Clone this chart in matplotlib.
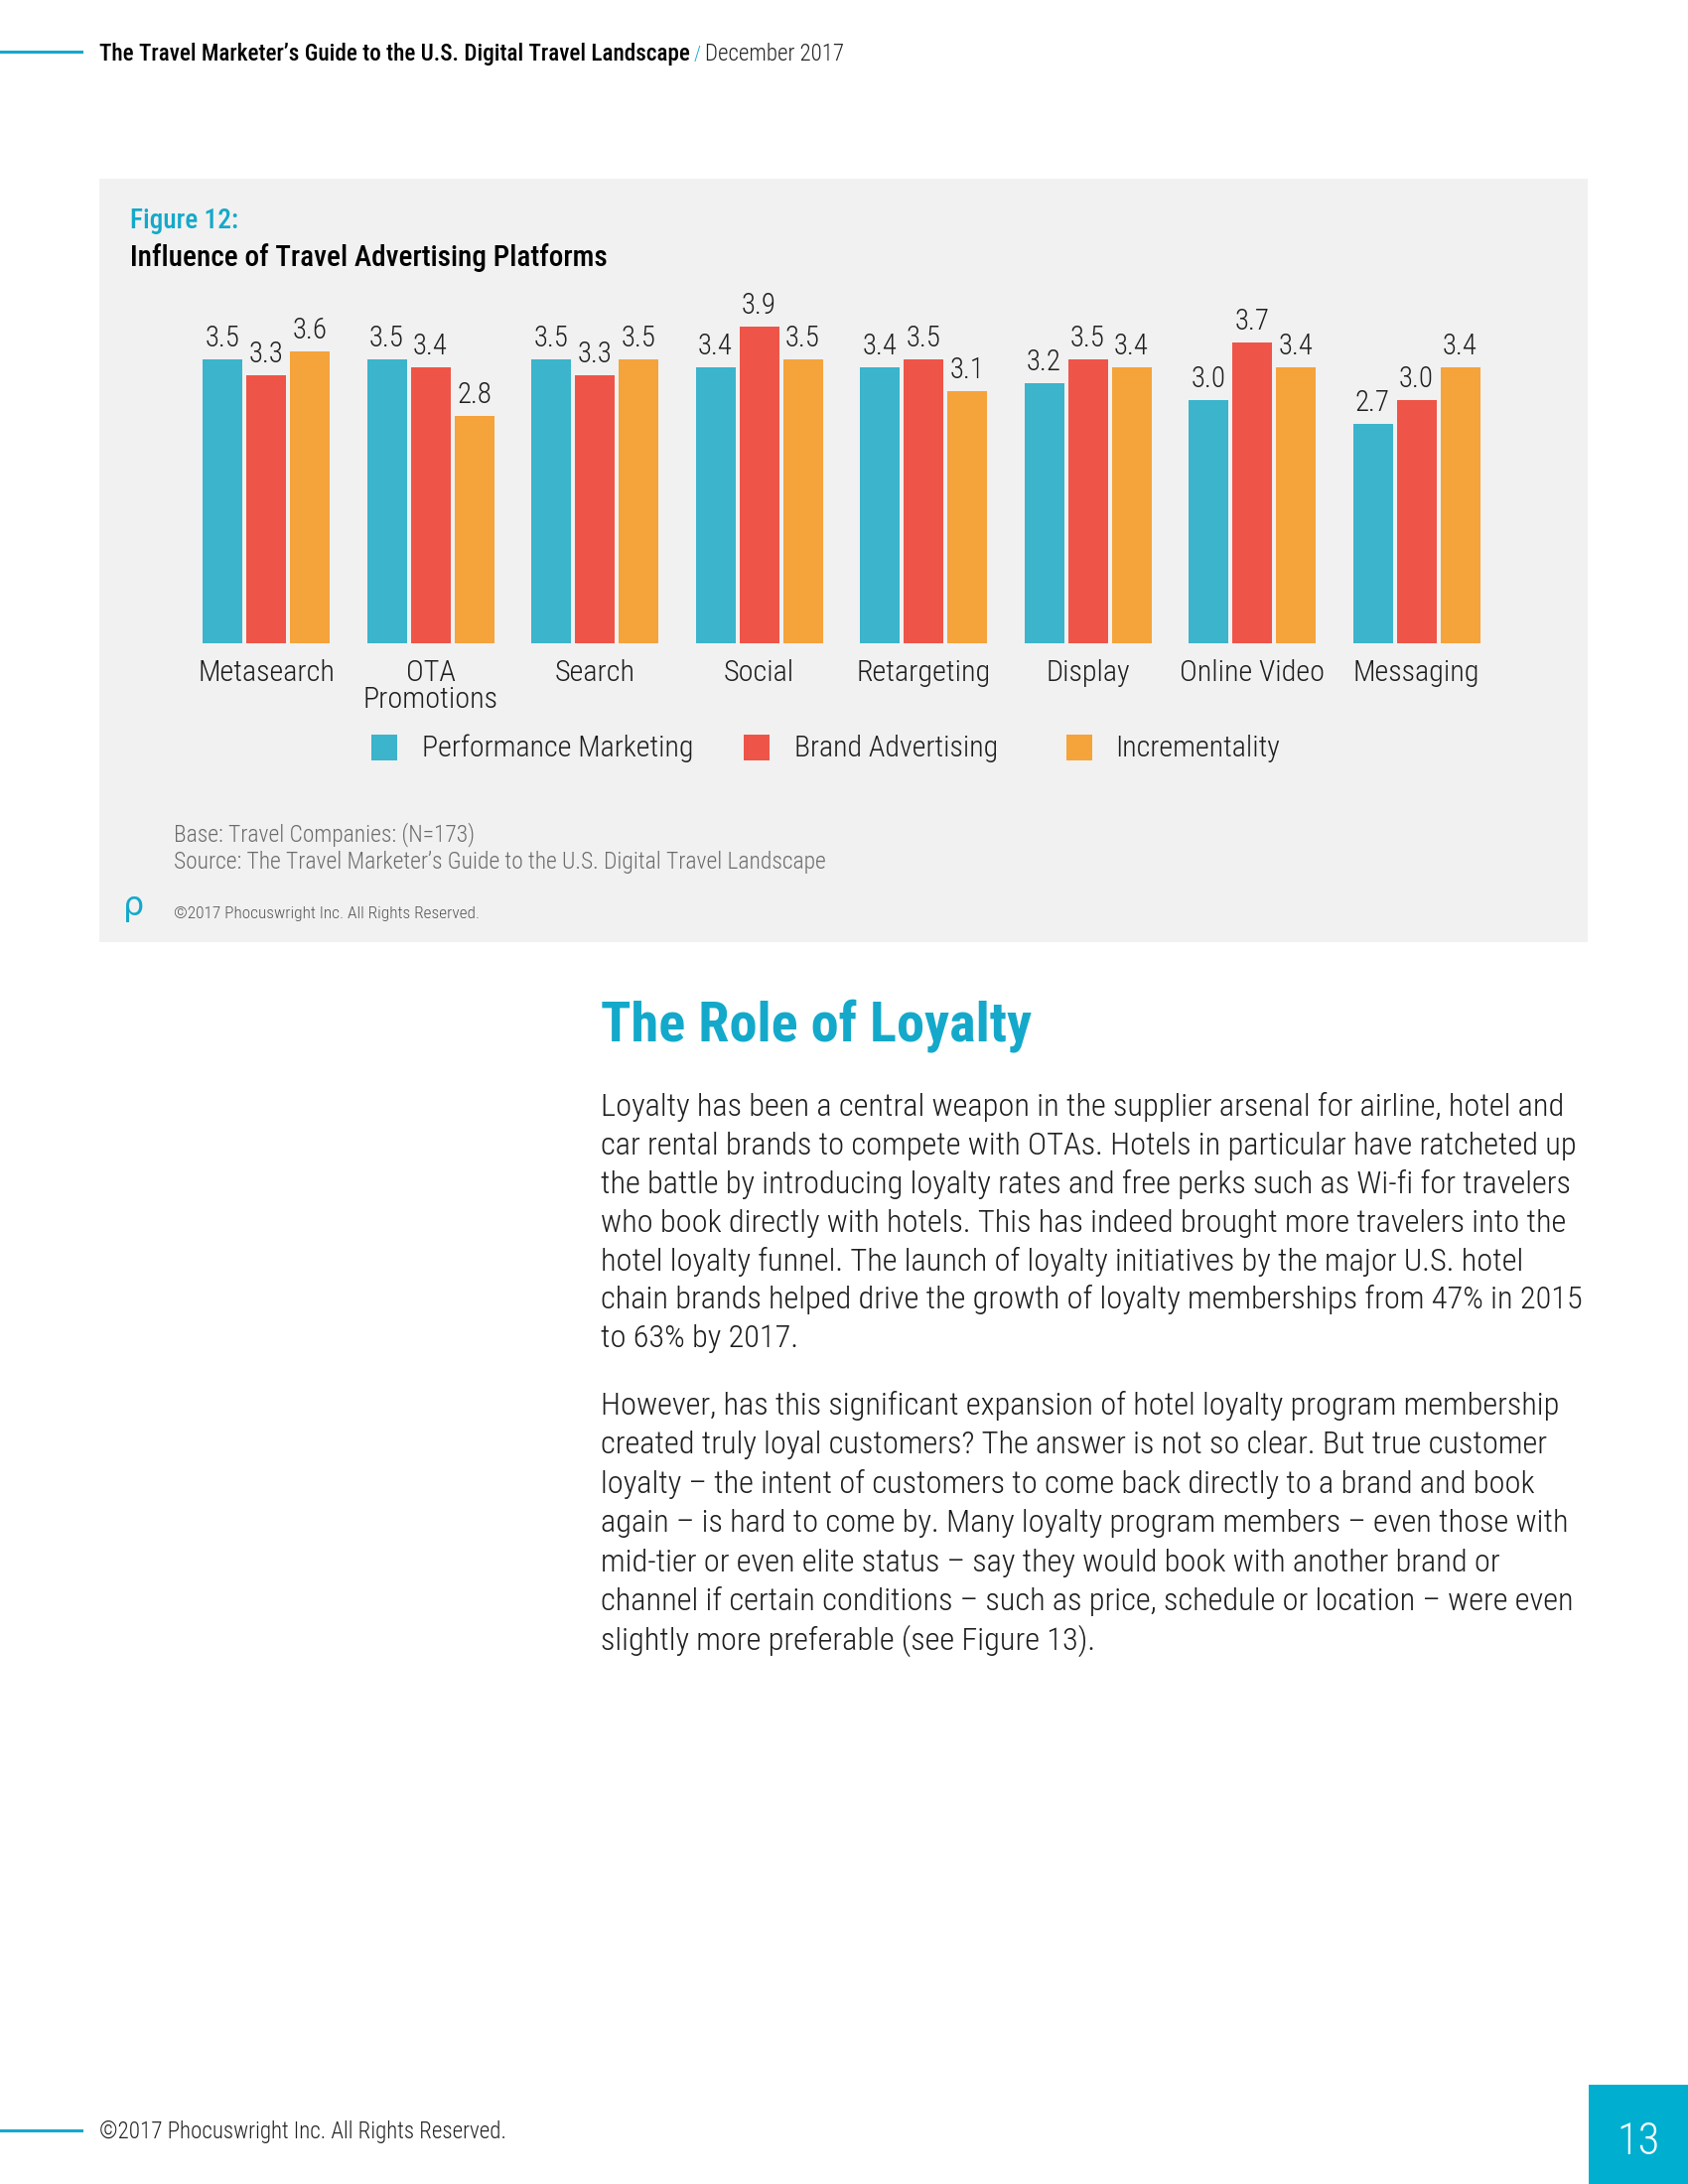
import numpy as np
import matplotlib
matplotlib.use("Agg")
import matplotlib.pyplot as plt
from matplotlib import font_manager
from matplotlib.patches import Rectangle
from matplotlib.lines import Line2D

# ---------------- data ----------------
categories = ["Metasearch", "OTA\nPromotions", "Search", "Social", "Retargeting",
              "Display", "Online Video", "Messaging"]
series_names = ["Performance Marketing", "Brand Advertising", "Incrementality"]
performance = [3.5, 3.5, 3.5, 3.4, 3.4, 3.2, 3.0, 2.7]
brand = [3.3, 3.4, 3.3, 3.9, 3.5, 3.5, 3.7, 3.0]
incrementality = [3.6, 2.8, 3.5, 3.5, 3.1, 3.4, 3.4, 3.4]
series_colors = ["#3BB4CC", "#EE5548", "#F5A33B"]

para1 = [
    "Loyalty has been a central weapon in the supplier arsenal for airline, hotel and",
    "car rental brands to compete with OTAs. Hotels in particular have ratcheted up",
    "the battle by introducing loyalty rates and free perks such as Wi-fi for travelers",
    "who book directly with hotels. This has indeed brought more travelers into the",
    "hotel loyalty funnel. The launch of loyalty initiatives by the major U.S. hotel",
    "chain brands helped drive the growth of loyalty memberships from 47% in 2015",
    "to 63% by 2017.",
]
para2 = [
    "However, has this significant expansion of hotel loyalty program membership",
    "created truly loyal customers? The answer is not so clear. But true customer",
    "loyalty \u2013 the intent of customers to come back directly to a brand and book",
    "again \u2013 is hard to come by. Many loyalty program members \u2013 even those with",
    "mid-tier or even elite status \u2013 say they would book with another brand or",
    "channel if certain conditions \u2013 such as price, schedule or location \u2013 were even",
    "slightly more preferable (see Figure 13).",
]

CYAN = "#14A9CA"
DARK = "#1E1E1E"

# ---------------- fonts ----------------
available = {f.name for f in font_manager.fontManager.ttflist}
pref = ["Roboto Condensed", "Liberation Sans Narrow", "Open Sans Condensed", "Roboto", "DejaVu Sans"]
FONT = [f for f in pref if f in available][:1] + ["DejaVu Sans"]
plt.rcParams["font.family"] = FONT

W, H = 1700, 2200
fig = plt.figure(figsize=(17, 22), dpi=100)
fig.patch.set_facecolor("white")
renderer = fig.canvas.get_renderer()


def X(px):
    return px / W


def Y(py):
    return 1 - py / H


def fit(t, width):
    for _ in range(3):
        w = t.get_window_extent(renderer).width
        t.set_fontsize(t.get_fontsize() * width / w)
    return t


def ftext(px, py, s, width=None, size=20, **kw):
    kw.setdefault("va", "baseline")
    t = fig.text(X(px), Y(py), s, fontsize=size, **kw)
    if width:
        fit(t, width)
    return t


def fit_size(s, width, **kw):
    t = fig.text(0, 0, s, fontsize=20, **kw)
    fit(t, width)
    size = t.get_fontsize()
    t.remove()
    return size


# ---------------- header ----------------
fig.add_artist(Line2D([0, X(82)], [Y(52), Y(52)], color=CYAN, lw=2.2, transform=fig.transFigure))
ftext(100, 61, "The Travel Marketer\u2019s Guide to the U.S. Digital Travel Landscape", width=592,
      color="black", fontweight="medium")
ftext(699, 61, "/", width=7, color=CYAN, fontweight="light")
ftext(710, 61, "December 2017", width=140, color="#222222", fontweight="light")

# ---------------- grey panel ----------------
fig.add_artist(Rectangle((X(100), Y(949)), X(1599) - X(100), (949 - 180) / H,
                         transform=fig.transFigure, facecolor="#F1F1F1", edgecolor="none", zorder=-5))

ftext(131, 230, "Figure 12:", width=109, color=CYAN, fontweight="medium")
ftext(131, 268, "Influence of Travel Advertising Platforms", width=480, color="black", fontweight="medium")

# ---------------- bar chart ----------------
bottom_px, top_px = 647.7, 200
px_per_unit = 81.7
group_px, center0 = 165.5, 268
ax = fig.add_axes([X(100), Y(bottom_px), X(1600) - X(100), (bottom_px - top_px) / H])
ax.set_facecolor("none")
ax.set_xlim((100 - center0) / group_px, (1600 - center0) / group_px)
ax.set_ylim(0, (bottom_px - top_px) / px_per_unit)

cat_size = fit_size("Metasearch", 138, fontweight="light")
val_size = cat_size * 0.96

xpos = np.arange(len(categories))
pitch = 44 / group_px
bw = 40 / group_px
for i, (vals, col, name) in enumerate(zip([performance, brand, incrementality], series_colors, series_names)):
    bars = ax.bar(xpos + (i - 1) * pitch, vals, bw, color=col, label=name, edgecolor="none")
    ax.bar_label(bars, labels=[f"{v:.1f}" for v in vals], padding=5, fontsize=val_size,
                 color=DARK, fontweight="light")

for s in ax.spines.values():
    s.set_visible(False)
ax.set_yticks([])
ax.set_xticks(xpos)
ax.set_xticklabels(categories, fontsize=cat_size, color=DARK, fontweight="light", linespacing=0.95)
ax.tick_params(axis="x", length=0, pad=12)

# ---------------- legend ----------------
leg_size = fit_size("Performance Marketing", 274, fontweight="light")
legend_sq_x = [374, 749, 1074]
legend_tx_x = [425, 800, 1123]
for name, col, sx, tx in zip(series_names, series_colors, legend_sq_x, legend_tx_x):
    fig.add_artist(Rectangle((X(sx), Y(766)), 26 / W, 26 / H, transform=fig.transFigure,
                             facecolor=col, edgecolor="none"))
    ftext(tx, 762, name, size=leg_size, color=DARK, fontweight="light")

# ---------------- notes ----------------
note_size = fit_size("Source: The Travel Marketer\u2019s Guide to the U.S. Digital Travel Landscape", 655,
                     fontweight="light")
ftext(175, 847, "Base: Travel Companies: (N=173)", size=note_size, color="#6B6B6B", fontweight="light")
ftext(175, 875, "Source: The Travel Marketer\u2019s Guide to the U.S. Digital Travel Landscape",
      size=note_size, color="#6B6B6B", fontweight="light")
ftext(124, 922, "\u03c1", size=24, color=CYAN, family=["DejaVu Sans"])
ftext(175, 925, "\u00a92017 Phocuswright Inc. All Rights Reserved.", width=309, color="#555555",
      fontweight="light")

# ---------------- article ----------------
ftext(605, 1049, "The Role of Loyalty", width=434, color=CYAN, fontweight="bold")
body_size = fit_size(para1[5], 991, fontweight="light")
for k, line in enumerate(para1):
    ftext(605, 1124 + 38.9 * k, line, size=body_size, color=DARK, fontweight="light")
for k, line in enumerate(para2):
    ftext(605, 1425 + 39.4 * k, line, size=body_size, color=DARK, fontweight="light")

# ---------------- footer ----------------
fig.add_artist(Line2D([0, X(82)], [Y(2146), Y(2146)], color=CYAN, lw=2.2, transform=fig.transFigure))
ftext(100, 2154, "\u00a92017 Phocuswright Inc. All Rights Reserved.", width=410, color="#222222",
      fontweight="light")
fig.add_artist(Rectangle((X(1600), 0), 1 - X(1600), 100 / H, transform=fig.transFigure,
                         facecolor="#00AFCF", edgecolor="none"))
ftext(1650, 2170, "13", size=32, color="white", fontweight="light", ha="center")

fig.savefig("out.png", dpi=100, facecolor="white")
